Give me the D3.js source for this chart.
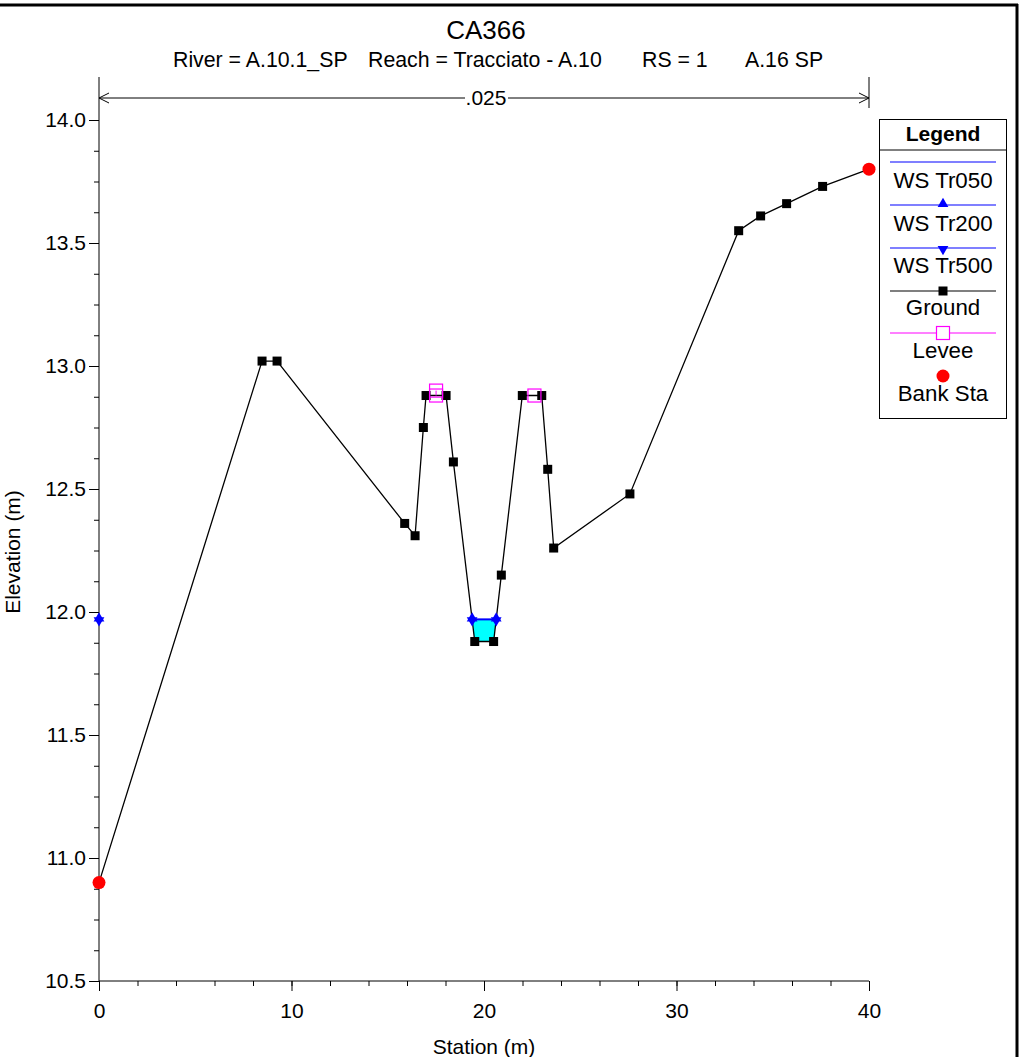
<!DOCTYPE html>
<html>
<head>
<meta charset="utf-8">
<script src="https://cdn.jsdelivr.net/npm/d3@7"></script>
<style>
  html, body { margin: 0; padding: 0; background: #fff; }
  svg { display: block; font-family: "Liberation Sans", Arial, sans-serif; }
</style>
</head>
<body>
<svg id="chart" width="1033" height="1057"></svg>
<script>
// ---- Data ----
const title = "CA366";
const subtitleParts = ["River = A.10.1_SP", "Reach = Tracciato - A.10", "RS = 1", "A.16 SP"];
const manningN = ".025";
const groundStation = [0, 8.47, 9.25, 15.88, 16.42, 16.85, 16.99, 18.03, 18.41, 19.52, 20.50, 20.90, 21.99, 23.00, 23.31, 23.62, 27.58, 33.23, 34.37, 35.72, 37.59, 40];
const groundElev    = [10.90, 13.02, 13.02, 12.36, 12.31, 12.75, 12.88, 12.88, 12.61, 11.88, 11.88, 12.15, 12.88, 12.88, 12.58, 12.26, 12.48, 13.55, 13.61, 13.66, 13.73, 13.80];
const leveeStation = [17.51, 17.51, 22.62];
const leveeElev    = [12.90, 12.88, 12.88];
const bankStation = [0, 40];
const wsProfiles = ["WS Tr050", "WS Tr200", "WS Tr500"];
const wsElev = [11.97, 11.97, 11.97];
const wsMarkerExtraStation = [0];
const xTicks = [0, 10, 20, 30, 40];
const yTicks = [10.5, 11.0, 11.5, 12.0, 12.5, 13.0, 13.5, 14.0];
const legendLabels = ["WS Tr050", "WS Tr200", "WS Tr500", "Ground", "Levee", "Bank Sta"];

// ---- Layout ----
const svg = d3.select("#chart");
const x = d3.scaleLinear().domain([0, 40]).range([99, 869]);
const y = d3.scaleLinear().domain([10.5, 14.0]).range([981, 120]);
const FS = 21;
const blue = "#0000ff", magenta = "#ff00ff";

// Frame
svg.append("line").attr("x1", 0).attr("x2", 1018).attr("y1", 5).attr("y2", 5).attr("stroke", "#000").attr("stroke-width", 3);
svg.append("line").attr("x1", 1017).attr("x2", 1017).attr("y1", 4).attr("y2", 1057).attr("stroke", "#000").attr("stroke-width", 3);

// Titles
svg.append("text").attr("x", 486).attr("y", 39).attr("text-anchor", "middle").attr("font-size", 26).text(title);
const sub = svg.append("text").attr("y", 67).attr("font-size", 21.3);
const subX = [173, 368, 642, 745];
subtitleParts.forEach((t, i) => sub.append("tspan").attr("x", subX[i]).text(t));

// Manning's n bracket
svg.append("line").attr("x1", 869).attr("x2", 869).attr("y1", 77).attr("y2", 108).attr("stroke", "#000");
const ay = 98;
svg.append("line").attr("x1", x(0)).attr("x2", 465).attr("y1", ay).attr("y2", ay).attr("stroke", "#000");
svg.append("line").attr("x1", 508).attr("x2", x(40)).attr("y1", ay).attr("y2", ay).attr("stroke", "#000");
svg.append("path").attr("d", `M${x(0)+10},${ay-5}L${x(0)},${ay}L${x(0)+10},${ay+5}`).attr("fill", "none").attr("stroke", "#000");
svg.append("path").attr("d", `M${x(40)-10},${ay-5}L${x(40)},${ay}L${x(40)-10},${ay+5}`).attr("fill", "none").attr("stroke", "#000");
svg.append("text").attr("x", 486).attr("y", ay + 7).attr("text-anchor", "middle").attr("font-size", FS).text(manningN);

// Axes
const yAxisG = svg.append("g").attr("transform", `translate(${x(0)},0)`);
yAxisG.call(d3.axisLeft(y).tickValues(d3.range(10.5, 14.001, 0.125)).tickSize(5).tickFormat(""));
yAxisG.append("g").call(d3.axisLeft(y).tickValues(yTicks).tickSize(10).tickFormat(d3.format(".1f")));
yAxisG.selectAll(".domain").remove();
yAxisG.selectAll("text").attr("font-size", FS).attr("font-family", "Liberation Sans, Arial, sans-serif").attr("fill", "#000");
yAxisG.selectAll("line").attr("stroke", "#000");
svg.append("line").attr("x1", x(0)).attr("x2", x(0)).attr("y1", 77).attr("y2", y(10.5)).attr("stroke", "#000");

const xAxisG = svg.append("g").attr("transform", `translate(0,${y(10.5)})`);
xAxisG.call(d3.axisBottom(x).tickValues(d3.range(0, 40.001, 2)).tickSize(5).tickFormat(""));
xAxisG.append("g").call(d3.axisBottom(x).tickValues(xTicks).tickSize(10).tickFormat(d3.format("d")));
xAxisG.selectAll(".domain").remove();
xAxisG.selectAll("text").attr("font-size", FS).attr("font-family", "Liberation Sans, Arial, sans-serif").attr("fill", "#000").attr("dy", "1.15em");
xAxisG.selectAll("line").attr("stroke", "#000");
svg.append("line").attr("x1", x(0)).attr("x2", x(40)).attr("y1", y(10.5)).attr("y2", y(10.5)).attr("stroke", "#000");

svg.append("text").attr("x", 484).attr("y", 1054).attr("text-anchor", "middle").attr("font-size", FS).text("Station (m)");
svg.append("text").attr("transform", "translate(20,552) rotate(-90)").attr("text-anchor", "middle").attr("font-size", FS).text("Elevation (m)");

// ---- Water ----
const ground = groundStation.map((s, i) => ({ s, e: groundElev[i] }));
const ws = wsElev[0];
const iMin = groundElev.indexOf(d3.min(groundElev.slice(3, 16)));
let li = iMin; while (li > 0 && ground[li - 1].e < ws) li--;
let ri = iMin; while (ri < ground.length - 1 && ground[ri + 1].e < ws) ri++;
const interp = (a, b) => a.s + (ws - a.e) / (b.e - a.e) * (b.s - a.s);
const leftEdge = interp(ground[li], ground[li - 1]);
const rightEdge = interp(ground[ri], ground[ri + 1]);
const waterPts = [{ s: leftEdge, e: ws }].concat(ground.slice(li, ri + 1)).concat([{ s: rightEdge, e: ws }]);
svg.append("path").datum(waterPts)
  .attr("d", d3.line().x(d => x(d.s)).y(d => y(d.e)))
  .attr("fill", "#00ffff").attr("stroke", "none");
svg.append("line").attr("x1", x(leftEdge)).attr("x2", x(rightEdge)).attr("y1", y(ws)).attr("y2", y(ws)).attr("stroke", blue).attr("stroke-width", 2);

// ---- Ground ----
svg.append("path").datum(ground)
  .attr("d", d3.line().x(d => x(d.s)).y(d => y(d.e)))
  .attr("fill", "none").attr("stroke", "#000").attr("stroke-width", 1.3);
svg.selectAll(".gm").data(ground.slice(1, -1)).enter().append("rect")
  .attr("x", d => x(d.s) - 4.5).attr("y", d => y(d.e) - 4.5).attr("width", 9).attr("height", 9).attr("fill", "#000");

// WS markers (triangle up + down = star)
const triUp = d3.symbol().type(d3.symbolTriangle).size(50);
const wsMarkerStations = wsMarkerExtraStation.concat([leftEdge, rightEdge]);
wsMarkerStations.forEach(s => {
  svg.append("path").attr("d", triUp).attr("transform", `translate(${x(s)},${y(ws) - 1})`).attr("fill", blue);
  svg.append("path").attr("d", triUp).attr("transform", `translate(${x(s)},${y(ws) + 1}) rotate(180)`).attr("fill", blue);
});

// Levees
svg.append("line").attr("x1", x(leveeStation[0])).attr("x2", x(leveeStation[0])).attr("y1", y(leveeElev[0])).attr("y2", y(leveeElev[1])).attr("stroke", magenta);
svg.selectAll(".lv").data(leveeStation.map((s, i) => ({ s, e: leveeElev[i] }))).enter().append("rect")
  .attr("x", d => x(d.s) - 6.5).attr("y", d => y(d.e) - 6.5).attr("width", 13).attr("height", 13)
  .attr("fill", "none").attr("stroke", magenta).attr("stroke-width", 1.2);

// Bank stations
svg.selectAll(".bk").data(bankStation).enter().append("circle")
  .attr("cx", d => x(d)).attr("cy", d => y(groundElev[groundStation.indexOf(d)])).attr("r", 6.5).attr("fill", "#ff0000");

// ---- Legend ----
const lg = svg.append("g");
lg.append("rect").attr("x", 879.5).attr("y", 119.5).attr("width", 127).attr("height", 299).attr("fill", "#fff").attr("stroke", "#000");
lg.append("line").attr("x1", 879.5).attr("x2", 1006.5).attr("y1", 150).attr("y2", 150).attr("stroke", "#000");
lg.append("text").attr("x", 943).attr("y", 141).attr("text-anchor", "middle").attr("font-size", 21).attr("font-weight", "bold").text("Legend");
const lineYs = [162, 205, 248, 291, 333, 376];
const textYs = [188, 231, 273, 315, 358, 401];
const lineColors = [blue, blue, blue, "#000", magenta, null];
legendLabels.forEach((lab, i) => {
  if (lineColors[i]) lg.append("line").attr("x1", 890).attr("x2", 996).attr("y1", lineYs[i]).attr("y2", lineYs[i]).attr("stroke", lineColors[i]).attr("stroke-width", 1.2);
  lg.append("text").attr("x", 943).attr("y", textYs[i]).attr("text-anchor", "middle").attr("font-size", 22.3).text(lab);
});
lg.append("path").attr("d", triUp).attr("transform", `translate(943,${lineYs[1] - 1})`).attr("fill", blue);
lg.append("path").attr("d", triUp).attr("transform", `translate(943,${lineYs[2] + 1}) rotate(180)`).attr("fill", blue);
lg.append("rect").attr("x", 938.5).attr("y", lineYs[3] - 4.5).attr("width", 9).attr("height", 9).attr("fill", "#000");
lg.append("rect").attr("x", 936.5).attr("y", lineYs[4] - 6.5).attr("width", 13).attr("height", 13).attr("fill", "#fff").attr("stroke", magenta).attr("stroke-width", 1.2);
lg.append("circle").attr("cx", 943).attr("cy", lineYs[5]).attr("r", 6.5).attr("fill", "#ff0000");
</script>
</body>
</html>
